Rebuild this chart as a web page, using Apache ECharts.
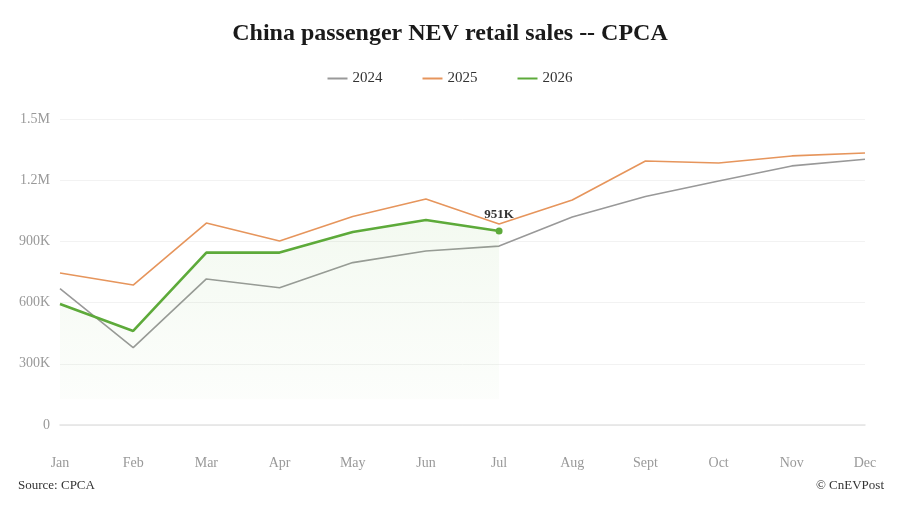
<!DOCTYPE html>
<html>
<head>
<meta charset="utf-8">
<script src="https://cdn.jsdelivr.net/npm/echarts@6/dist/echarts.min.js"></script>
<style>
  html, body { margin: 0; padding: 0; background: #fff; }
  #main { width: 900px; height: 506px; }
</style>
</head>
<body>
<div id="main"></div>
<script>
var months = ['Jan', 'Feb', 'Mar', 'Apr', 'May', 'Jun', 'Jul', 'Aug', 'Sept', 'Oct', 'Nov', 'Dec'];
var sales2024 = [668000, 379000, 716000, 673000, 796000, 853000, 877000, 1020000, 1120000, 1196000, 1270000, 1303000];
var sales2025 = [745000, 686000, 990000, 902000, 1022000, 1108000, 985000, 1103000, 1294000, 1284000, 1319000, 1333000];
var sales2026 = [593000, 461000, 845000, 845000, 946000, 1005000, 951000];
var yTicks = [0, 300000, 600000, 900000, 1200000, 1500000];

var serif = '"Liberation Serif", "DejaVu Serif", serif';

function fmt(v) {
    if (v >= 1000000) return (v / 1000000) + 'M';
    if (v >= 1000) return Math.round(v / 1000) + 'K';
    return String(v);
}

var chart = echarts.init(document.getElementById('main'));

var lastIdx = sales2026.length - 1;

chart.setOption({
    backgroundColor: '#fff',
    animation: false,
    title: {
        text: 'China passenger NEV retail sales -- CPCA',
        left: 'center',
        top: 17,
        textStyle: { fontFamily: serif, fontSize: 24, fontWeight: 'bold', color: '#1a1a1a' }
    },
    legend: {
        top: 66,
        left: 'center',
        itemGap: 40,
        itemWidth: 20,
        itemHeight: 2,
        icon: 'rect',
        textStyle: { fontFamily: serif, fontSize: 15, color: '#333' },
        data: ['2024', '2025', '2026']
    },
    graphic: [
        { type: 'text', left: 18, top: 479, style: { text: 'Source: CPCA', fontFamily: serif, fontSize: 13, fill: '#333' } },
        { type: 'text', right: 16, top: 479, style: { text: '© CnEVPost', fontFamily: serif, fontSize: 13, fill: '#333' } }
    ],
    grid: { left: 60, right: 35, top: 119, bottom: 81, containLabel: false },
    xAxis: {
        type: 'category',
        boundaryGap: false,
        data: months,
        axisLine: { show: true, lineStyle: { color: '#e3e3e3', width: 1.5 } },
        axisTick: { show: false },
        axisLabel: { fontFamily: serif, fontSize: 14, color: '#999', margin: 31 }
    },
    yAxis: {
        type: 'value',
        min: yTicks[0],
        max: yTicks[yTicks.length - 1],
        interval: yTicks[1] - yTicks[0],
        axisLine: { show: false },
        axisTick: { show: false },
        splitLine: { lineStyle: { color: '#f2f2f2' } },
        axisLabel: { fontFamily: serif, fontSize: 14, color: '#999', margin: 10, formatter: fmt }
    },
    series: [
        {
            name: '2024',
            type: 'line',
            data: sales2024,
            symbol: 'none',
            color: '#999999',
            lineStyle: { width: 1.6, color: '#999999' },
            z: 2
        },
        {
            name: '2025',
            type: 'line',
            data: sales2025,
            symbol: 'none',
            color: '#e6955c',
            lineStyle: { width: 1.6, color: '#e6955c' },
            z: 3
        },
        {
            name: '2026',
            type: 'line',
            data: sales2026.map(function (v, i) {
                if (i !== lastIdx) return v;
                return {
                    value: v,
                    symbol: 'circle',
                    symbolSize: 7,
                    label: {
                        show: true,
                        position: 'top',
                        distance: 6,
                        formatter: function (p) { return fmt(p.value); },
                        fontFamily: serif,
                        fontSize: 13,
                        fontWeight: 'bold',
                        color: '#333'
                    }
                };
            }),
            symbol: 'none',
            showSymbol: true,
            color: '#5daa3a',
            lineStyle: { width: 2.6, color: '#5daa3a' },
            itemStyle: { color: '#5daa3a' },
            areaStyle: {
                color: new echarts.graphic.LinearGradient(0, 0, 0, 1, [
                    { offset: 0, color: 'rgba(120,190,90,0.12)' },
                    { offset: 0.87, color: 'rgba(120,190,90,0.03)' },
                    { offset: 0.88, color: 'rgba(255,255,255,0)' },
                    { offset: 1, color: 'rgba(255,255,255,0)' }
                ])
            },
            z: 4
        }
    ]
});
</script>
</body>
</html>
